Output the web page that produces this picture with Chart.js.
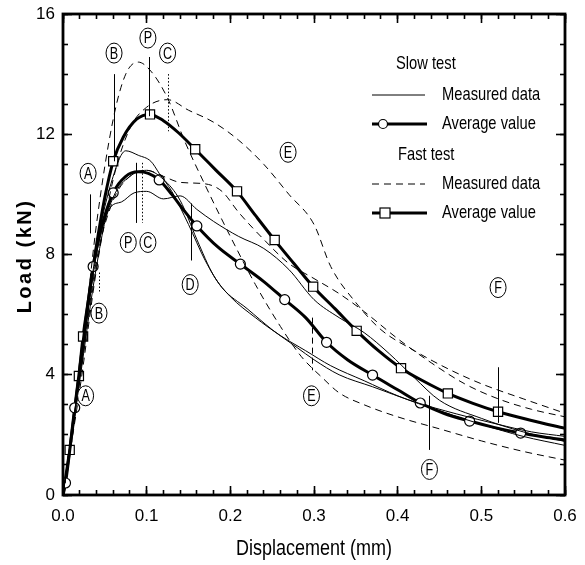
<!DOCTYPE html>
<html>
<head>
<meta charset="utf-8">
<script src="https://cdn.jsdelivr.net/npm/chart.js@4.4.1/dist/chart.umd.min.js"></script>
<style>
  html, body { margin: 0; padding: 0; background: #fff; }
  #wrap { width: 585px; height: 565px; }
</style>
</head>
<body>
<div id="wrap"><canvas id="loadChart" width="585" height="565"></canvas></div>
<script>
// Slow test, measured data (three specimens)
var slow1X = [0, 0.02, 0.04, 0.06, 0.075, 0.09, 0.105, 0.115, 0.13, 0.15, 0.17, 0.19, 0.22, 0.25, 0.28, 0.3, 0.33, 0.37, 0.42, 0.47, 0.52, 0.56, 0.6];
var slow1Y = [0, 4.0, 8.2, 10.6, 11.45, 11.3, 11.1, 10.7, 10.1, 9.0, 7.8, 6.9, 6.2, 5.5, 4.9, 4.5, 4.0, 3.6, 3.1, 2.7, 2.35, 2.1, 1.95];
var slow2X = [0, 0.02, 0.04, 0.055, 0.07, 0.085, 0.1, 0.12, 0.14, 0.16, 0.18, 0.21, 0.24, 0.27, 0.3, 0.33, 0.36, 0.39, 0.42, 0.45, 0.5, 0.55, 0.6];
var slow2Y = [0, 3.8, 7.6, 9.5, 9.75, 10.05, 10.1, 9.85, 9.95, 9.5, 9.1, 8.6, 8.2, 7.5, 6.5, 5.9, 5.4, 4.7, 3.9, 3.15, 2.55, 2.1, 1.78];
var slow3X = [0, 0.02, 0.04, 0.06, 0.08, 0.1, 0.12, 0.14, 0.16, 0.18, 0.2, 0.23, 0.26, 0.29, 0.32, 0.36, 0.4, 0.45, 0.5, 0.55, 0.6];
var slow3Y = [0, 4.0, 8.0, 9.9, 10.6, 10.8, 10.5, 9.8, 8.5, 7.3, 6.6, 5.9, 5.3, 4.8, 4.3, 3.8, 3.3, 2.8, 2.35, 1.95, 1.65];

// Fast test, measured data (three specimens)
var fast1X = [0, 0.02, 0.04, 0.06, 0.075, 0.09, 0.105, 0.125, 0.145, 0.17, 0.2, 0.23, 0.26, 0.285, 0.31, 0.33, 0.36, 0.4, 0.45, 0.5, 0.55, 0.6];
var fast1Y = [0, 4.0, 9.0, 12.5, 14.0, 14.4, 14.1, 13.2, 11.8, 10.3, 8.6, 7.0, 5.6, 4.6, 3.9, 3.4, 3.0, 2.6, 2.2, 1.8, 1.45, 1.16];
var fast2X = [0, 0.02, 0.04, 0.06, 0.08, 0.1, 0.125, 0.15, 0.18, 0.21, 0.24, 0.27, 0.3, 0.32, 0.35, 0.38, 0.42, 0.46, 0.5, 0.55, 0.6];
var fast2Y = [0, 3.5, 7.5, 10.5, 12.2, 12.9, 13.15, 12.8, 12.4, 11.8, 11.0, 10.0, 9.0, 7.6, 6.4, 5.5, 4.8, 4.2, 3.7, 3.2, 2.72];
var fast3X = [0, 0.02, 0.04, 0.06, 0.08, 0.1, 0.12, 0.14, 0.17, 0.19, 0.21, 0.24, 0.27, 0.3, 0.33, 0.36, 0.4, 0.44, 0.48, 0.52, 0.56, 0.6];
var fast3Y = [0, 3.8, 7.8, 9.8, 10.6, 10.8, 10.6, 10.4, 10.35, 10.1, 9.4, 8.5, 7.7, 7.2, 6.7, 6.1, 5.2, 4.4, 3.7, 3.2, 2.85, 2.6];

// Average curves, with the indices of the points that carry a marker
var slowAvgX = [0, 0.003, 0.014, 0.025, 0.036, 0.045, 0.06, 0.075, 0.09, 0.102, 0.115, 0.13, 0.145, 0.16, 0.185, 0.212, 0.24, 0.265, 0.29, 0.315, 0.34, 0.37, 0.4, 0.427, 0.455, 0.486, 0.515, 0.547, 0.575, 0.6];
var slowAvgY = [0, 0.4, 2.9, 5.3, 7.6, 8.8, 10.05, 10.6, 10.75, 10.7, 10.48, 10.0, 9.45, 8.95, 8.25, 7.68, 7.1, 6.5, 5.9, 5.08, 4.5, 3.99, 3.5, 3.06, 2.72, 2.46, 2.25, 2.06, 1.93, 1.83];
var slowAvgMarks = [1, 2, 4, 6, 10, 13, 15, 17, 19, 21, 23, 25, 27];
var fastAvgX = [0, 0.008, 0.019, 0.024, 0.031, 0.04, 0.05, 0.06, 0.072, 0.088, 0.104, 0.12, 0.138, 0.158, 0.183, 0.208, 0.23, 0.253, 0.276, 0.299, 0.325, 0.351, 0.377, 0.404, 0.43, 0.46, 0.49, 0.52, 0.56, 0.6];
var fastAvgY = [0, 1.5, 3.96, 5.27, 6.6, 8.3, 9.9, 11.1, 11.9, 12.5, 12.66, 12.45, 12.05, 11.5, 10.8, 10.1, 9.3, 8.48, 7.7, 6.93, 6.2, 5.46, 4.8, 4.22, 3.8, 3.38, 3.05, 2.77, 2.48, 2.22];
var fastAvgMarks = [1, 2, 3, 7, 10, 13, 15, 17, 19, 21, 23, 25, 27];

// Circled letters marking the failure stages
var noteText = ['A', 'A', 'B', 'B', 'P', 'C', 'P', 'C', 'D', 'E', 'E', 'F', 'F'];
var noteX = [0.030, 0.027, 0.061, 0.043, 0.1015, 0.125, 0.078, 0.1015, 0.152, 0.269, 0.297, 0.52, 0.438];
var noteY = [10.7, 3.3, 14.7, 6.05, 15.2, 14.7, 8.4, 8.4, 7.0, 11.4, 3.3, 6.9, 0.85];

// Guide lines under the letters
var guideX = [0.032, 0.061, 0.043, 0.103, 0.125, 0.087, 0.095, 0.153, 0.298, 0.52, 0.437];
var guideTop = [10.0, 14.0, 7.4, 14.57, 14.0, 11.05, 11.05, 9.7, 5.9, 4.25, 3.3];
var guideBottom = [8.7, 11.1, 6.7, 12.6, 12.1, 9.05, 9.05, 7.8, 4.15, 2.4, 1.5];
var guideStyle = ['solid', 'solid', 'dot', 'solid', 'dot', 'solid', 'dot', 'solid', 'dash', 'solid', 'solid'];

var xTicks = [0, 0.1, 0.2, 0.3, 0.4, 0.5, 0.6];
var yTicks = [0, 4, 8, 12, 16];
var xMinorCount = 30;   // minor ticks every 0.02 mm
var yMinorCount = 16;   // minor ticks every 1 kN

var FONT = '"Liberation Sans", Arial, sans-serif';

function toPoints(xs, ys) {
    return xs.map(function (x, i) { return { x: x, y: ys[i] }; });
}

function measured(xs, ys, dashed) {
    return {
        data: toPoints(xs, ys),
        borderColor: '#000',
        borderWidth: 1,
        borderDash: dashed ? [7, 5] : [],
        pointRadius: 0,
        fill: false,
        cubicInterpolationMode: 'monotone'
    };
}

function average(xs, ys, marks, style, size) {
    return {
        data: toPoints(xs, ys),
        borderColor: '#000',
        borderWidth: 3,
        pointStyle: style,
        pointRadius: function (ctx) { return marks.indexOf(ctx.dataIndex) >= 0 ? size : 0; },
        pointBackgroundColor: '#fff',
        pointBorderColor: '#000',
        pointBorderWidth: 1.2,
        fill: false,
        cubicInterpolationMode: 'monotone'
    };
}

// zero-size axis that only draws inward tick marks on one edge
function edgeAxis(position, min, max, count, len) {
    var horizontal = position === 'top' || position === 'bottom';
    return {
        type: 'linear',
        position: position,
        min: min,
        max: max,
        weight: 0,
        afterBuildTicks: function (s) {
            var t = [];
            for (var i = 0; i <= count; i++) t.push({ value: min + (max - min) * i / count });
            s.ticks = t;
        },
        afterFit: function (s) {
            if (horizontal) s.height = 0; else s.width = 0;
            s.paddingLeft = s.paddingRight = s.paddingTop = s.paddingBottom = 0;
        },
        ticks: { display: false },
        border: { display: false },
        grid: { display: true, drawOnChartArea: false, drawTicks: true, tickLength: -len, tickWidth: 1.6, tickColor: '#000', color: '#000' }
    };
}

var notesPlugin = {
    id: 'notes',
    afterDatasetsDraw: function (chart) {
        var c = chart.ctx, a = chart.chartArea;
        var xs = chart.scales.x, ys = chart.scales.y;
        c.save();
        c.strokeStyle = '#000';
        c.lineWidth = 1;
        guideX.forEach(function (gx, i) {
            var px = Math.round(xs.getPixelForValue(gx)) + 0.5;
            c.setLineDash(guideStyle[i] === 'dot' ? [1.5, 2] : guideStyle[i] === 'dash' ? [6, 4] : []);
            c.beginPath();
            c.moveTo(px, ys.getPixelForValue(guideTop[i]));
            c.lineTo(px, ys.getPixelForValue(guideBottom[i]));
            c.stroke();
        });
        c.setLineDash([]);
        c.textAlign = 'center';
        c.textBaseline = 'middle';
        noteText.forEach(function (t, i) {
            var px = xs.getPixelForValue(noteX[i]);
            var py = ys.getPixelForValue(noteY[i]);
            c.fillStyle = '#fff';
            c.beginPath();
            c.ellipse(px, py, 8, 10, 0, 0, Math.PI * 2);
            c.fill();
            c.stroke();
            c.fillStyle = '#000';
            c.save();
            c.translate(px, py + 1);
            c.scale(0.9, 1.15);
            c.font = '14px ' + FONT;
            c.fillText(t, 0, 0);
            c.restore();
        });
        // frame round the plot
        c.lineWidth = 2.8;
        c.strokeRect(a.left, a.top, a.right - a.left, a.bottom - a.top);
        c.restore();
    }
};

var legendPlugin = {
    id: 'customLegend',
    afterDraw: function (chart) {
        var c = chart.ctx, a = chart.chartArea;
        c.save();
        c.fillStyle = '#000';
        c.strokeStyle = '#000';
        c.textBaseline = 'middle';
        c.textAlign = 'left';
        var rows = [['Slow test', 396, 64], ['Measured data', 442, 95], ['Average value', 442, 124],
                    ['Fast test', 398, 155], ['Measured data', 442, 184], ['Average value', 442, 213]];
        rows.forEach(function (r) {
            c.save();
            c.translate(r[1], r[2]);
            c.scale(0.92, 1.2);
            c.font = '16px ' + FONT;
            c.fillText(r[0], 0, 0);
            c.restore();
        });

        c.lineWidth = 1;
        c.beginPath(); c.moveTo(372, 95); c.lineTo(425, 95); c.stroke();
        c.setLineDash([7, 5]);
        c.beginPath(); c.moveTo(372, 184); c.lineTo(425, 184); c.stroke();
        c.setLineDash([]);

        c.lineWidth = 3;
        c.beginPath(); c.moveTo(372, 124); c.lineTo(427, 124); c.stroke();
        c.beginPath(); c.moveTo(372, 213); c.lineTo(427, 213); c.stroke();
        c.lineWidth = 1.2;
        c.fillStyle = '#fff';
        c.beginPath(); c.arc(383, 124, 4.5, 0, Math.PI * 2); c.fill(); c.stroke();
        c.fillRect(380, 208, 10, 10); c.strokeRect(380, 208, 10, 10);

        // axis titles, drawn tall and narrow like the printed figure
        c.fillStyle = '#000';
        c.textAlign = 'center';
        c.save();
        c.translate((a.left + a.right) / 2, 549);
        c.scale(1, 1.22);
        c.font = '18px ' + FONT;
        c.fillText('Displacement (mm)', 0, 0);
        c.restore();
        c.translate(25, 256);
        c.rotate(-Math.PI / 2);
        c.font = 'bold 20px ' + FONT;
        c.letterSpacing = '2.5px';
        c.fillText('Load (kN)', 0, 0);
        c.restore();
    }
};

var ctx = document.getElementById('loadChart').getContext('2d');
var loadChart = new Chart(ctx, {
    type: 'line',
    data: {
        datasets: [
            measured(slow1X, slow1Y, false),
            measured(slow2X, slow2Y, false),
            measured(slow3X, slow3Y, false),
            measured(fast1X, fast1Y, true),
            measured(fast2X, fast2Y, true),
            measured(fast3X, fast3Y, true),
            average(slowAvgX, slowAvgY, slowAvgMarks, 'circle', 5),
            average(fastAvgX, fastAvgY, fastAvgMarks, 'rect', 6.5)
        ]
    },
    options: {
        responsive: false,
        animation: false,
        layout: { padding: { top: 14, right: 20, left: 0, bottom: 0 } },
        plugins: {
            legend: { display: false },
            tooltip: { enabled: false }
        },
        scales: {
            x: {
                type: 'linear',
                position: 'bottom',
                min: 0,
                max: 0.6,
                weight: 1,
                afterFit: function (s) {
                    s.height = 70;
                    s.paddingLeft = s.paddingRight = 0;
                },
                afterBuildTicks: function (s) { s.ticks = xTicks.map(function (v) { return { value: v }; }); },
                grid: { display: true, drawOnChartArea: false, drawTicks: true, tickLength: -9, tickWidth: 1.6, tickColor: '#000', color: '#000' },
                border: { display: false },
                ticks: {
                    color: '#000',
                    font: { size: 17, family: FONT },
                    padding: 20,
                    maxRotation: 0,
                    callback: function (v) { return v.toFixed(1); }
                }
            },
            y: {
                type: 'linear',
                position: 'left',
                min: 0,
                max: 16,
                weight: 1,
                afterFit: function (s) {
                    s.width = 63;
                    s.paddingTop = s.paddingBottom = 0;
                },
                afterBuildTicks: function (s) { s.ticks = yTicks.map(function (v) { return { value: v }; }); },
                grid: { display: true, drawOnChartArea: false, drawTicks: true, tickLength: -9, tickWidth: 1.6, tickColor: '#000', color: '#000' },
                border: { display: false },
                ticks: {
                    color: '#000',
                    font: { size: 17, family: FONT },
                    padding: 17
                }
            },
            xMinor: edgeAxis('bottom', 0, 0.6, xMinorCount, 5),
            xTop: edgeAxis('top', 0, 0.6, xTicks.length - 1, 9),
            xTopMinor: edgeAxis('top', 0, 0.6, xMinorCount, 5),
            yMinor: edgeAxis('left', 0, 16, yMinorCount, 5),
            yRight: edgeAxis('right', 0, 16, yTicks.length - 1, 9),
            yRightMinor: edgeAxis('right', 0, 16, yMinorCount, 5)
        }
    },
    plugins: [notesPlugin, legendPlugin]
});
</script>
</body>
</html>
